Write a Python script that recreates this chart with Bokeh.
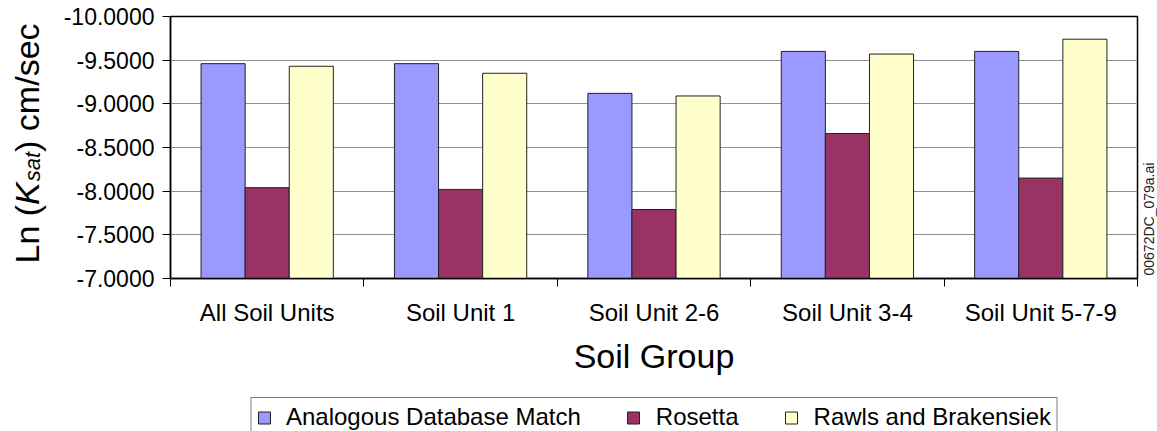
import math
from bokeh.plotting import figure
from bokeh.layouts import row, column
from bokeh.models import (Range1d, FixedTicker, PrintfTickFormatter, Legend,
                          LegendItem, Label)
from bokeh.embed import file_html
from bokeh.resources import INLINE

# ---------------- data ----------------
categories = ["All Soil Units", "Soil Unit 1", "Soil Unit 2-6",
              "Soil Unit 3-4", "Soil Unit 5-7-9"]
series_names = ["Analogous Database Match", "Rosetta", "Rawls and Brakensiek"]
analogous = [-9.46, -9.46, -9.12, -9.60, -9.60]
rosetta = [-8.04, -8.02, -7.79, -8.66, -8.15]
rawls = [-9.43, -9.35, -9.09, -9.57, -9.74]
y_ticks = [-10.0, -9.5, -9.0, -8.5, -8.0, -7.5, -7.0]
colors = ["#9999FF", "#993366", "#FFFFCC"]

FONT = "Liberation Sans"
TOP_H = 394
LEFT_W = 55
RIGHT_W = 18
TOTAL_W = 1157


def blank_fig(w, h, **kw):
    f = figure(width=w, height=h, output_backend="svg", toolbar_location=None,
               title=None, x_axis_location=None, y_axis_location=None,
               min_border=0, **kw)
    f.outline_line_color = None
    f.xgrid.visible = False
    f.ygrid.visible = False
    f.background_fill_color = "white"
    f.border_fill_color = "white"
    return f


# ---------------- main plot ----------------
p = figure(width=TOTAL_W - LEFT_W - RIGHT_W, height=TOP_H, output_backend="svg",
           toolbar_location=None, title=None,
           x_range=Range1d(0, len(categories)), y_range=Range1d(-7.0, -10.0),
           min_border_left=115, min_border_right=2, min_border_top=16,
           min_border_bottom=TOP_H - 278)
p.background_fill_color = "white"
p.border_fill_color = "white"
p.outline_line_color = "black"
p.outline_line_width = 1.5

bar_w = 0.228
offsets = [-bar_w, 0.0, bar_w]
series_values = [analogous, rosetta, rawls]
for k, vals in enumerate(series_values):
    xs = [i + 0.5 + offsets[k] for i in range(len(categories))]
    p.vbar(x=xs, width=bar_w, bottom=-7.0, top=vals,
           fill_color=colors[k], line_color="#222222", line_width=1)

# y axis
yt = FixedTicker(ticks=y_ticks, minor_ticks=[])
p.yaxis.ticker = yt
p.ygrid.ticker = yt
p.yaxis.formatter = PrintfTickFormatter(format="%.4f")
p.yaxis.major_label_text_font = FONT
p.yaxis.major_label_text_font_size = "23px"
p.yaxis.major_label_text_color = "black"
p.yaxis.major_tick_out = 8
p.yaxis.major_tick_in = 0
p.yaxis.minor_tick_out = 0
p.yaxis.minor_tick_in = 0
p.yaxis.major_tick_line_color = "black"
p.yaxis.major_label_standoff = 8
p.yaxis.axis_line_color = "black"
p.yaxis.axis_line_width = 1.5
p.ygrid.grid_line_color = "#8f8f8f"
p.ygrid.grid_line_width = 1

# x axis
xt = FixedTicker(ticks=[i + 0.5 for i in range(len(categories))],
                 minor_ticks=list(range(len(categories) + 1)))
p.xaxis.ticker = xt
p.xaxis.major_label_overrides = {i + 0.5: c for i, c in enumerate(categories)}
p.xaxis.major_tick_out = 0
p.xaxis.major_tick_in = 0
p.xaxis.minor_tick_out = 8
p.xaxis.minor_tick_in = 0
p.xaxis.minor_tick_line_color = "black"
p.xaxis.major_label_standoff = 12
p.xaxis.major_label_text_font = FONT
p.xaxis.major_label_text_font_size = "24px"
p.xaxis.major_label_text_color = "black"
p.xaxis.axis_line_color = "black"
p.xaxis.axis_line_width = 1.5
p.xaxis.axis_label = "Soil Group"
p.xaxis.axis_label_text_font = FONT
p.xaxis.axis_label_text_font_size = "34px"
p.xaxis.axis_label_text_font_style = "normal"
p.xaxis.axis_label_text_color = "black"
p.xaxis.axis_label_standoff = 8
p.xgrid.visible = False

# ---------------- y axis title (left strip; frame aligned with main frame) ----------------
pl = blank_fig(LEFT_W, TOP_H)
ang = math.pi / 2
lx = 26
parts = [
    ("Ln (", 34, "normal", 15, lx),
    ("K", 34, "italic", 73.6, lx),
    ("sat", 22, "italic", 97.3, lx + 6),
    (") cm/sec", 34, "normal", 126.6, lx),
]
for txt, fs, style, ypos, xpos in parts:
    pl.add_layout(Label(x=xpos, y=ypos, x_units="screen", y_units="screen",
                        text=txt, angle=ang, text_font=FONT,
                        text_font_size=f"{fs}px", text_font_style=style,
                        text_align="left", text_baseline="alphabetic",
                        text_color="black"))

# ---------------- file tag (right strip) ----------------
pr = blank_fig(RIGHT_W, TOP_H)
pr.add_layout(Label(x=9, y=3, x_units="screen", y_units="screen",
                    text="00672DC_079a.ai", angle=ang, text_font=FONT,
                    text_font_size="14px", text_align="left",
                    text_baseline="alphabetic", text_color="#222222"))

# ---------------- legend strip ----------------
pg = blank_fig(TOTAL_W, 431 - TOP_H)
pg.min_border_left = 170
pg.min_border_right = 20
pg.min_border_top = 3
pg.min_border_bottom = 0
pg.x_range = Range1d(0, len(categories))
pg.y_range = Range1d(0, 1)   # bars fall outside: only their legend swatches show
legend_renderers = []
for k, vals in enumerate(series_values):
    xs = [i + 0.5 + offsets[k] for i in range(len(categories))]
    legend_renderers.append(pg.vbar(x=xs, width=bar_w, bottom=-7.0, top=vals,
                                    fill_color=colors[k], line_color="#222222",
                                    line_width=1))
legend = Legend(items=[LegendItem(label=n, renderers=[r])
                       for n, r in zip(series_names, legend_renderers)],
                orientation="horizontal", location="top_center",
                padding=5, spacing=45, label_standoff=15,
                glyph_width=15, glyph_height=15,
                label_text_font=FONT, label_text_font_size="24px",
                label_text_color="black",
                border_line_color="black", border_line_width=1.5,
                background_fill_color="white", background_fill_alpha=1.0,
                margin=0)
pg.add_layout(legend)

layout = column(row(pl, p, pr), pg)
open("out.html", "w").write(file_html(layout, INLINE))
